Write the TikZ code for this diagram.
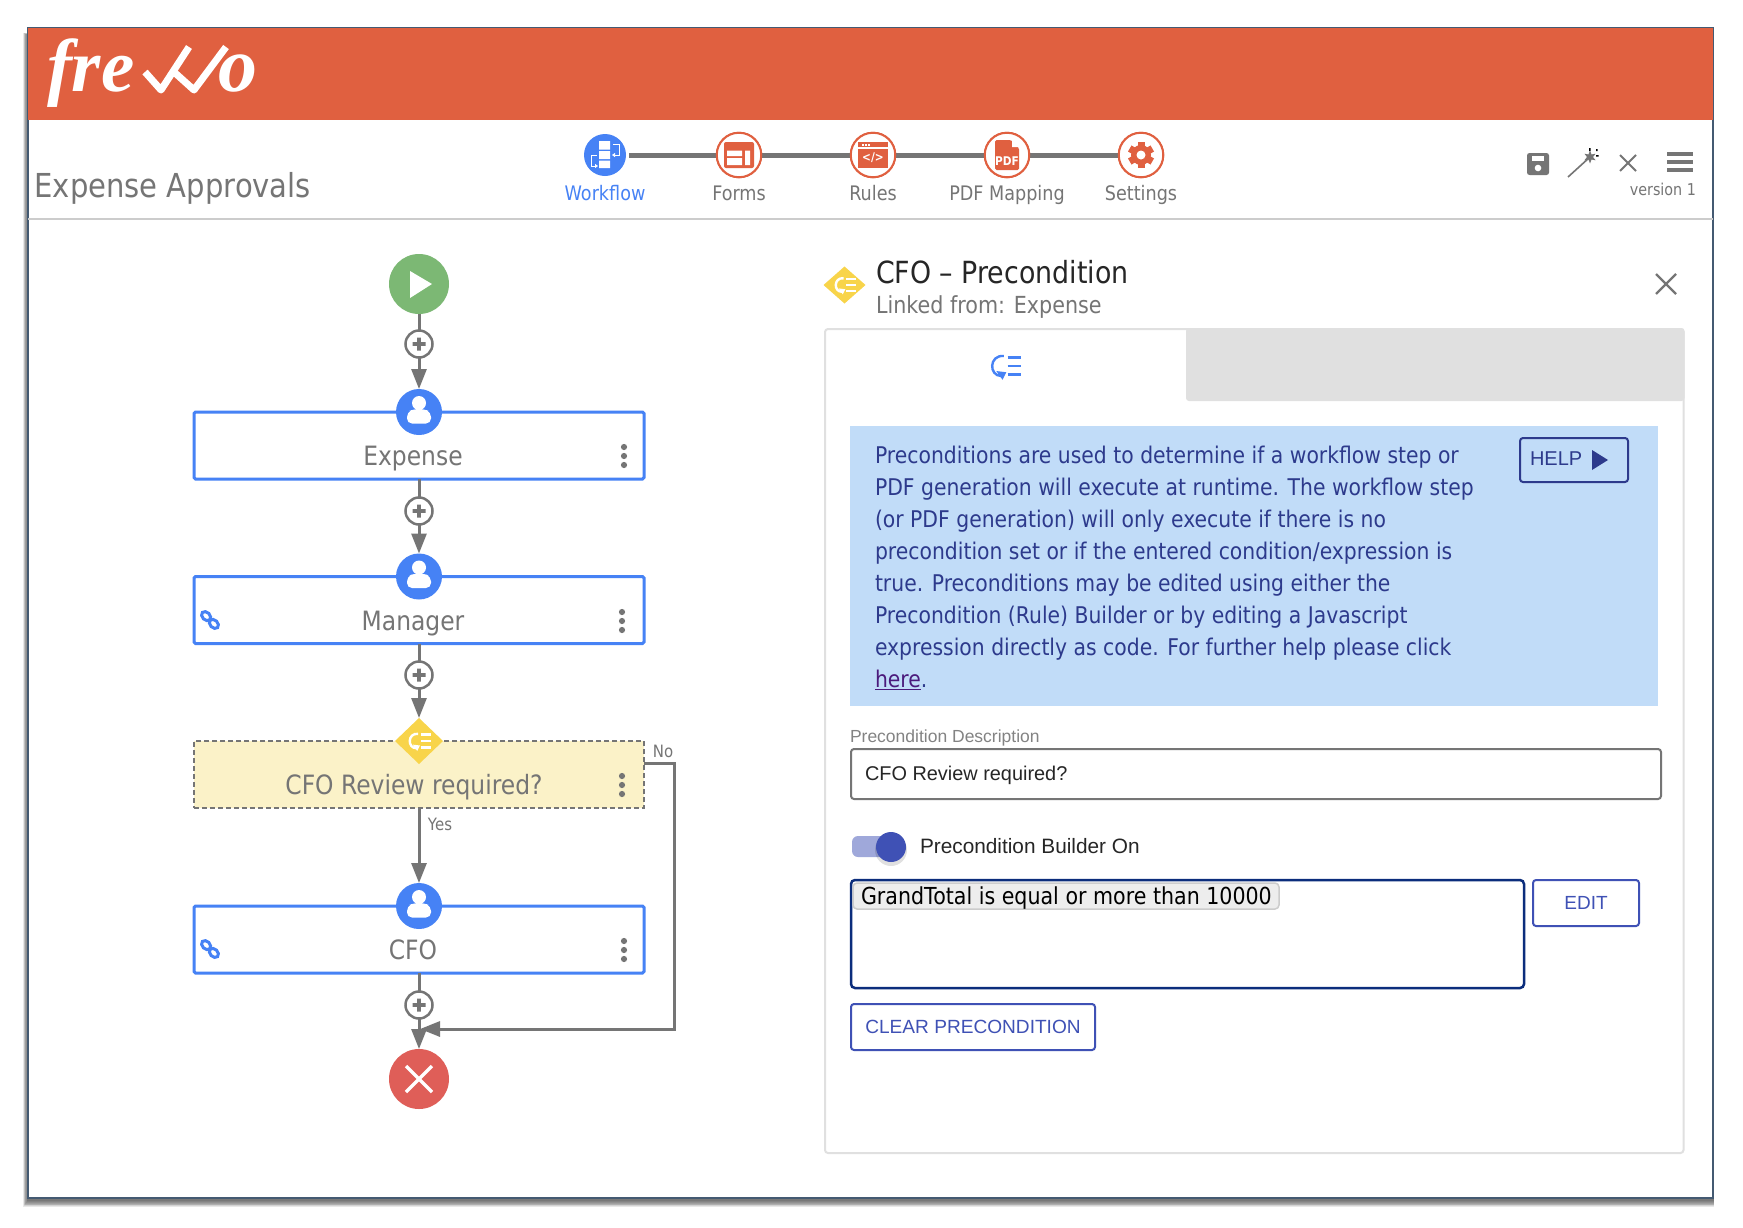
\documentclass[tikz,border=0pt]{standalone}
\usepackage{fontspec}
\newfontfamily\uifont[FakeStretch=0.88]{DejaVu Sans}
\newfontfamily\helpfont[FakeStretch=0.885]{DejaVu Sans}
\newfontfamily\formfont{Liberation Sans}
\newfontfamily\logofont{Liberation Serif}
\usetikzlibrary{calc, positioning, arrows.meta, shapes.geometric}
\newcommand{\fsz}[1]{\fontsize{#1}{#1}\selectfont}
\definecolor{brandred}{HTML}{E06040}
\definecolor{flowgrey}{HTML}{757575}
\definecolor{taskblue}{HTML}{4682F5}
\definecolor{startgreen}{HTML}{7CB874}
\definecolor{stopred}{HTML}{DF5E58}
\definecolor{condyellow}{HTML}{F8D44A}
\definecolor{condfill}{HTML}{FBF2C8}
\definecolor{helpfill}{HTML}{C1DCF8}
\definecolor{helpink}{HTML}{2D3A8C}
\definecolor{matblue}{HTML}{3F51B5}
\definecolor{edgegrey}{HTML}{E0E0E0}
\definecolor{framedark}{HTML}{445A72}
\definecolor{ruleink}{HTML}{0B2D7C}
\definecolor{linkpurple}{HTML}{4B1A7C}
\tikzset{
  every node/.style={inner sep=0pt, outer sep=0pt},
  wire/.style={draw=flowgrey, line width=3pt},
  flow/.style={wire, -{Triangle[length=20pt,width=15pt]}},
  plusnode/.style={circle, draw=flowgrey, line width=2.5pt, fill=white, minimum size=27pt},
  headnode/.style={circle, fill=taskblue, minimum size=46pt},
  taskbox/.style={rectangle, draw=taskblue, fill=white, line width=3pt, rounded corners=1.5pt, minimum width=450pt, minimum height=67pt},
  condbox/.style={rectangle, draw=flowgrey, fill=condfill, line width=1.5pt, dash pattern=on 5pt off 3pt, minimum width=450pt, minimum height=67pt},
  flowlabel/.style={font=\uifont\fsz{26.6}, text=flowgrey, text height=19pt, text depth=4pt},
  smalllabel/.style={font=\uifont\fsz{17}, text=flowgrey},
  stepring/.style={circle, draw=brandred, fill=white, line width=2pt, minimum size=44.5pt},
  steplabel/.style={font=\uifont\fsz{20}, text=flowgrey, text height=15pt, text depth=4pt},
  formtext/.style={font=\formfont\fsz{19.9}, text=black!85},
  btnbox/.style={rectangle, draw=matblue, line width=2pt, rounded corners=3pt, fill=white},
  dotmenu/.pic={\foreach \dy in {-9,0,9} \fill[flowgrey] (0,\dy) circle (3.1);},
  plussign/.pic={\fill[flowgrey] (-6.5,-1.9) rectangle (6.5,1.9) (-1.9,-6.5) rectangle (1.9,6.5);},
  person/.pic={\fill[white] (0,-9) circle (7); \fill[white, rounded corners=5pt] (-12,11.5) -- (-12,0) -- (-5,-3) -- (5,-3) -- (12,0) -- (12,11.5) -- cycle;},
  chainlink/.pic={\draw[taskblue, line width=3pt, rotate=-45] (-5.5,0) ellipse (5.2 and 3.8) (5.5,0) ellipse (5.2 and 3.8);},
  condicon/.pic={
    \draw[#1, line width=2.4pt] (-1,-8) .. controls (-13,-9) and (-13,8) .. (-3,8);
    \fill[#1] (-7,4) -- (-2,11) -- (1,5) -- cycle;
    \draw[#1, line width=2.6pt] (2,-7) -- (13,-7) (2,0) -- (13,0) (2,7) -- (13,7);},
}
\begin{document}
\begin{tikzpicture}[x=1pt, y=-1pt, line cap=butt]
  \useasboundingbox (0,0) rectangle (1743,1227);

  % window %
  \foreach \s in {0,1,2,3,4,5,6,7} \fill[black, opacity=.09] (23+\s*.6,33+\s*.2) rectangle (1714,1207-\s*.8);
  \node[rectangle, draw=framedark, fill=white, line width=1.2pt, anchor=north west, minimum width=1685pt, minimum height=1170pt] (frame) at (28,28) {};
  \node[rectangle, fill=brandred, anchor=north west, minimum width=1685pt, minimum height=92pt] (banner) at (28,28) {};
  \draw[black!20, line width=2.5pt] (frame.west |- 0,219) -- (frame.east |- 0,219);

  % logo %
  \node[font=\logofont\bfseries\itshape\fsz{75}, text=white, anchor=base west] (logofre) at (47,91) {fre};
  \node[font=\logofont\bfseries\itshape\fsz{78}, text=white, anchor=base west] (logoo) at (218,91) {o};
  \draw[white, line width=7pt, line join=round] (145,72) -- (161,90) -- (189,47);
  \draw[white, line width=7pt, line join=round] (174,72) -- (194,90) -- (226,47);

  % title and steps %
  \node[font=\uifont\fsz{33}, text=flowgrey, anchor=west] (apptitle) at (34.5,188) {Expense Approvals};
  \node[circle, fill=taskblue, minimum size=42pt] (stepflow) at (605,155) {};
  \node[stepring, node distance=134pt, right of=stepflow] (stepform) {};
  \node[stepring, node distance=134pt, right of=stepform] (steprule) {};
  \node[stepring, node distance=134pt, right of=steprule] (steppdf) {};
  \node[stepring, node distance=134pt, right of=steppdf] (stepset) {};
  \draw[flowgrey, line width=5pt] (stepflow.east) ++(3,0) -- (stepform);
  \draw[flowgrey, line width=5pt] (stepform) -- (steprule);
  \draw[flowgrey, line width=5pt] (steprule) -- (steppdf);
  \draw[flowgrey, line width=5pt] (steppdf) -- (stepset);
  \node[stepring] at (stepform) {};
  \node[stepring] at (steprule) {};
  \node[stepring] at (steppdf) {};
  \node[stepring] at (stepset) {};
  \node[steplabel, text=taskblue, node distance=40pt, below of=stepflow] (lblflow) {Workflow};
  \node[steplabel, node distance=40pt, below of=stepform] (lblform) {Forms};
  \node[steplabel, node distance=40pt, below of=steprule] (lblrule) {Rules};
  \node[steplabel, node distance=40pt, below of=steppdf] (lblpdf) {PDF Mapping};
  \node[steplabel, node distance=40pt, below of=stepset] (lblset) {Settings};

  % step icons %
  \begin{scope}[shift={(stepflow.center)}]
    \fill[white] (-6,-14) rectangle (5,-5.5) (-6,-4) rectangle (5,4) (-6,5.5) rectangle (5,13);
    \draw[white, line width=1pt, -{Triangle[length=3pt,width=4pt]}] (8,-11) -- (14,-11) -- (14,0) -- (7,0);
    \draw[white, line width=1pt, -{Triangle[length=3pt,width=4pt]}] (-8,0) -- (-14,0) -- (-14,11) -- (-7,11);
  \end{scope}
  \begin{scope}[shift={(stepform.center)}]
    \fill[brandred, rounded corners=2pt] (-15,-13) rectangle (15,13);
    \fill[white] (-12,-4.5) rectangle (3,1) (-12,3) rectangle (3,10) (6,-4.5) rectangle (11,10);
  \end{scope}
  \begin{scope}[shift={(steprule.center)}]
    \fill[brandred] (-15,-13) rectangle (15,13);
    \fill[white] (-15,-8) rectangle (15,-6.5);
    \foreach \dx in {-11,-8,-5} \fill[white] (\dx,-11) rectangle (\dx+1.8,-9.4);
    \node[font=\uifont\bfseries\fsz{12}, text=white] (codeglyph) at (0,3) {</>};
  \end{scope}
  \begin{scope}[shift={(steppdf.center)}]
    \fill[brandred, rounded corners=1.5pt] (-12,-15) -- (4,-15) -- (12,-7) -- (12,15) -- (-12,15) -- cycle;
    \fill[white] (5,-15) -- (12,-8) -- (5,-8) -- cycle;
    \node[font=\uifont\bfseries\fsz{12}, text=white] (pdfglyph) at (0,6) {PDF};
  \end{scope}
  \begin{scope}[shift={(stepset.center)}]
    \foreach \a in {0,60,120} \fill[brandred, rotate=\a] (-3.5,-13) rectangle (3.5,13);
    \fill[brandred] (0,0) circle (10);
    \fill[white] (0,0) circle (4.5);
  \end{scope}

  % tool icons %
  \fill[flowgrey, rounded corners=2.5pt] (1527,153) rectangle (1549,175);
  \fill[white] (1532,156) rectangle (1544,161);
  \fill[white] (1538,168) circle (3.3);
  \draw[flowgrey, line width=1.6pt] (1568,177) -- (1590,157);
  \node[star, star points=6, star point ratio=2.2, fill=flowgrey, minimum size=13pt] (wandstar) at (1590,157) {};
  \fill[black] (1589,148) rectangle (1590.5,151) (1596,149) rectangle (1597.5,151) (1596,155) rectangle (1598.5,156.5);
  \draw[flowgrey, line width=2pt] (1620,155) -- (1636,171) (1636,155) -- (1620,171);
  \draw[flowgrey, line width=3.2pt] (1667,154) -- (1693,154) (1667,162) -- (1693,162) (1667,170) -- (1693,170);
  \node[smalllabel, font=\uifont\fsz{16.3}, anchor=east] (verlabel) at (1696,189) {version 1};

  % workflow %
  \node[circle, fill=startgreen, minimum size=60pt] (start) at (419,284) {};
  \fill[white] (410,271) -- (432,284) -- (410,298) -- cycle;
  \node[plusnode, node distance=60pt, below of=start] (plus1) {};
  \node[taskbox, node distance=101.5pt, below of=plus1] (box1) {};
  \node[headnode] (head1) at (box1.north) {};
  \node[plusnode, node distance=65.5pt, below of=box1] (plus2) {};
  \node[taskbox, node distance=99pt, below of=plus2] (box2) {};
  \node[headnode] (head2) at (box2.north) {};
  \node[plusnode, node distance=65pt, below of=box2] (plus3) {};
  \node[condbox, node distance=99.5pt, below of=plus3] (box3) {};
  \node[diamond, fill=condyellow, minimum width=48pt, minimum height=46pt] (head3) at (box3.north) {};
  \node[taskbox, node distance=165pt, below of=box3] (box4) {};
  \node[headnode] (head4) at (box4.north) {};
  \node[plusnode, node distance=65.5pt, below of=box4] (plus4) {};
  \node[circle, fill=stopred, minimum size=60pt, node distance=74pt, below of=plus4] (stop) {};
  \draw[white, line width=3.5pt] ($(stop)+(-13,-13)$) -- ($(stop)+(13,13)$) ($(stop)+(13,-13)$) -- ($(stop)+(-13,13)$);

  % edges %
  \draw[wire] (start) -- (plus1);
  \draw[flow] (plus1) -- (head1);
  \draw[wire] (box1) -- (plus2);
  \draw[flow] (plus2) -- (head2);
  \draw[wire] (box2) -- (plus3);
  \draw[flow] (plus3) -- (head3);
  \draw[flow] (box3) -- (head4);
  \draw[wire] (box4) -- (plus4);
  \draw[flow] (plus4) -- (stop);
  \coordinate (noout) at ($(box3.east)+(0,-11.5)$);
  \coordinate (nocorner) at (674,1029);
  \coordinate (nojoin) at (420,1029);
  \draw[flow] (noout) -| (nocorner) -- (nojoin);

  % labels %
  \node[flowlabel] (lbl1) at ($(box1.center)+(-6,12)$) {Expense};
  \node[flowlabel] (lbl2) at ($(box2.center)+(-6,13)$) {Manager};
  \node[flowlabel] (lbl3) at ($(box3.center)+(-5,12)$) {CFO Review required?};
  \node[flowlabel] (lbl4) at ($(box4.center)+(-6,12)$) {CFO};
  \node[smalllabel] (lblyes) at (440,824) {Yes};
  \node[smalllabel] (lblno) at (663,751) {No};
  \pic at ($(box1.center)+(205,10.5)$) {dotmenu};
  \pic at ($(box2.center)+(203,11)$) {dotmenu};
  \pic at ($(box3.center)+(203,10.5)$) {dotmenu};
  \pic at ($(box4.center)+(205,10.5)$) {dotmenu};
  \pic at (210,620) {chainlink};
  \pic at (210,949) {chainlink};
  \foreach \n in {plus1,plus2,plus3,plus4} \pic at (\n) {plussign};
  \foreach \n in {head1,head2,head4} \pic at (\n) {person};
  \pic[scale=.9] at (head3) {condicon=white};

  % precondition panel %
  \node[diamond, fill=condyellow, minimum width=42pt, minimum height=37pt] (paneldia) at (844.5,285) {};
  \pic[scale=.85] at (paneldia) {condicon=white};
  \node[font=\uifont\fsz{30.5}, text=black!85, anchor=west] (paneltitle) at (876,272) {CFO – Precondition};
  \node[font=\uifont\fsz{23.5}, text=flowgrey, anchor=west] (panelsub) at (876,307) {Linked from: Expense};
  \draw[flowgrey, line width=2.2pt] (1656,274) -- (1676,294) (1676,274) -- (1656,294);
  \draw[edgegrey, line width=2pt, rounded corners=3pt] (825,329) rectangle (1683.5,1153);
  \fill[edgegrey, rounded corners=3pt] (1186,328) -- (1684.5,328) -- (1684.5,401) -- (1186,401) -- cycle;
  \pic[scale=1.25] at (1005,366) {condicon=taskblue};

  \node[rectangle, fill=helpfill, anchor=north west, minimum width=808pt, minimum height=280pt] (helpbox) at (850,426) {};
  \node[font=\helpfont\fontsize{23}{32}\selectfont, text=helpink, align=left, anchor=north west] (helptext) at (875,446) {Preconditions are used to determine if a workflow step or\\
    PDF generation will execute at runtime. The workflow step\\
    (or PDF generation) will only execute if there is no\\
    precondition set or if the entered condition/expression is\\
    true. Preconditions may be edited using either the\\
    Precondition (Rule) Builder or by editing a Javascript\\
    expression directly as code. For further help please click\\
    {\color{linkpurple}\underline{here}}.};
  \node[btnbox, draw=helpink, fill=none, anchor=north west, minimum width=108pt, minimum height=44pt] (helpbtn) at (1520,438) {};
  \node[font=\formfont\fsz{20}, text=helpink, anchor=west] (helpword) at (1530,459) {HELP};
  \fill[helpink] (1592,450) -- (1608,460) -- (1592,470) -- cycle;

  \node[font=\formfont\fsz{17.5}, text=flowgrey!90, anchor=west] (desclabel) at (850,738) {Precondition Description};
  \node[rectangle, draw=flowgrey, line width=2pt, rounded corners=3pt, anchor=north west, minimum width=810pt, minimum height=50pt] (descbox) at (851,749) {};
  \node[formtext, anchor=west] (descword) at (865,775) {CFO Review required?};
  \fill[matblue!50, rounded corners=6pt] (852,836) rectangle (900,857);
  \fill[black, opacity=.12] (891,850) circle (16);
  \fill[matblue] (891,847) circle (15);
  \node[formtext, font=\formfont\fsz{20.8}, anchor=west] (togglelabel) at (920,846) {Precondition Builder On};

  \node[rectangle, draw=ruleink, line width=2.5pt, rounded corners=4pt, anchor=north west, minimum width=673pt, minimum height=108pt] (rulebox) at (851,880) {};
  \node[rectangle, draw=black!20, fill=black!7, line width=1.5pt, rounded corners=4pt, anchor=north west, minimum width=426pt, minimum height=26pt] (rulechip) at (853,883) {};
  \node[font=\uifont\fsz{23.4}, text=black, anchor=west] (ruleword) at (861,898) {GrandTotal is equal or more than 10000};
  \node[btnbox, anchor=north west, minimum width=106pt, minimum height=46pt, font=\formfont\fsz{19}, text=matblue] (editbtn) at (1533,880) {EDIT};
  \node[btnbox, anchor=north west, minimum width=244pt, minimum height=46pt, font=\formfont\fsz{19.1}, text=matblue] (clearbtn) at (851,1004) {CLEAR PRECONDITION};
\end{tikzpicture}
\end{document}
